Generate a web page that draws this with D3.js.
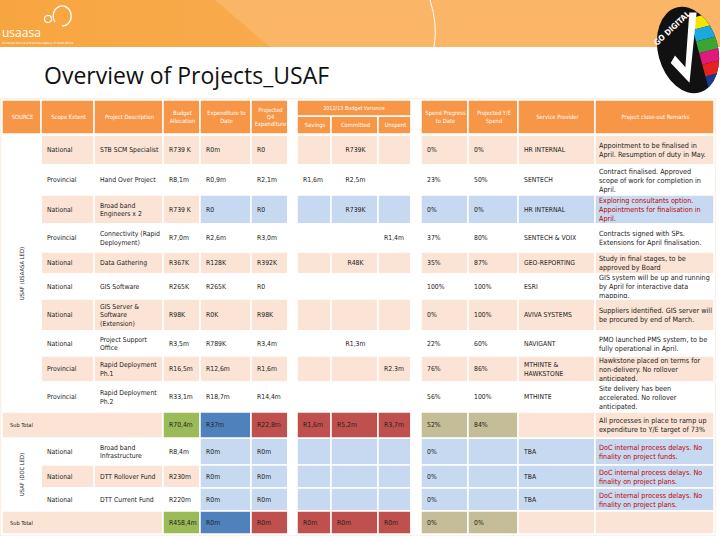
<!DOCTYPE html>
<html><head><meta charset="utf-8">
<script src="https://cdn.jsdelivr.net/npm/d3@7"></script>
<style>
body{margin:0;background:#fff}
svg{font-family:"Liberation Sans Narrow","DejaVu Sans Condensed",sans-serif}
</style></head>
<body><svg id="vis" width="720" height="540"></svg>
<script>
const headers = ["SOURCE","Scope Extent","Project Description","Budget Allocation","Expenditure to Date","Projected Q4 Expenditure","","Savings","Committed","Unspent","","Spend Progress to Date","Projected Y/E Spend","Service Provider","Project close-out Remarks"];
const scope = ["National","Provincial","National","Provincial","National","National","National","National","Provincial","Provincial","National","National","National"];
const projects = ["STB SCM Specialist","Hand Over Project","Broad band Engineers x 2","Connectivity (Rapid Deployment)","Data Gathering","GIS Software","GIS Server & Software (Extension)","Project Support Office","Rapid Deployment Ph.1","Rapid Deployment Ph.2","Broad band Infrastructure","DTT Rollover Fund","DTT Current Fund"];
const budget = ["R739 K","R8,1m","R739 K","R7,0m","R367K","R265K","R98K","R3,5m","R16,5m","R33,1m","R8,4m","R230m","R220m"];
const expenditure = ["R0m","R0,9m","R0","R2,6m","R128K","R265K","R0K","R789K","R12,6m","R18,7m","R0m","R0m","R0m"];
const projectedQ4 = ["R0","R2,1m","R0","R3,0m","R392K","R0","R98K","R3,4m","R1,6m","R14,4m","R0m","R0m","R0m"];
const savings = ["","R1,6m","","","","","","","","","","",""];
const committed = ["R739K","R2,5m","R739K","","R48K","","","R1,3m","","","","",""];
const unspent = ["","","","R1,4m","","","","","R2.3m","","","",""];
const spendProgress = ["0%","23%","0%","37%","35%","100%","0%","22%","76%","56%","0%","0%","0%"];
const projectedYE = ["0%","50%","0%","80%","87%","100%","100%","60%","86%","100%","","",""];
const provider = ["HR INTERNAL","SENTECH","HR INTERNAL","SENTECH & VOIX","GEO-REPORTING","ESRI","AVIVA SYSTEMS","NAVIGANT","MTHINTE & HAWKSTONE","MTHINTE","TBA","TBA","TBA"];
const remarks = ["Appointment to be finalised in April. Resumption of duty in May.","Contract finalised. Approved scope of work for completion in April.","Exploring consultants option. Appointments for finalisation in April.","Contracts signed with SPs. Extensions for April finalisation.","Study in final stages, to be approved by Board","GIS system will be up and running by April for interactive data mapping.","Suppliers identified. GIS server will be procured by end of March.","PMO launched PMS system, to be fully operational in April.","Hawkstone placed on terms for non-delivery. No rollover anticipated.","Site delivery has been accelerated. No rollover anticipated.","DoC internal process delays. No finality on project funds.","DoC internal process delays. No finality on project plans.","DoC internal process delays. No finality on project plans."];
const redRemark = [false,false,true,false,false,false,false,false,false,false,true,true,true];
const blueRow = [false,false,true,false,false,false,false,false,false,false,true,true,true];
const sources = ["USAF (USAASA LED)","USAF (DOC LED)"];
const subTotals = [
  {budget:"R70,4m",exp:"R37m",q4:"R22,8m",sav:"R1,6m",com:"R5,2m",uns:"R3,7m",spend:"52%",ye:"84%",remark:"All processes in place to ramp up expenditure to Y/E target of 73%"},
  {budget:"R458,4m",exp:"R0m",q4:"R0m",sav:"R0m",com:"R0m",uns:"R0m",spend:"0%",ye:"0%",remark:""}
];

// layout
const colEdges = [2,41,94,163,200,251,288,297,331,378,411,421,468,518,595,714];
const rowTops = [135,165,195,224,252,274,299,331,356,382,412,438,465,488,511,534];
const x = d3.scaleOrdinal().domain(d3.range(15)).range(colEdges.slice(0,-1));
const w = i => colEdges[i+1]-colEdges[i];
const y = d3.scaleOrdinal().domain(d3.range(15)).range(rowTops.slice(0,-1));
const h = i => rowTops[i+1]-rowTops[i];

const PEACH="#fbe4d5", BLUE="#c6d9f0", ORANGE="#f79646", GREEN="#9bbb59", DBLUE="#4f81bd", RED="#c0504d", TAN="#c4bd97";
const svg = d3.select("#vis");

// banner
const grad = svg.append("defs").append("linearGradient").attr("id","g1");
grad.append("stop").attr("offset","0").attr("stop-color","#f7a540");
grad.append("stop").attr("offset","1").attr("stop-color","#fbb462");
svg.append("rect").attr("width",720).attr("height",47).attr("fill","url(#g1)");
svg.append("path").attr("d","M215,0 L270,47 L720,47 L720,0Z").attr("fill","#fab567");
svg.append("path").attr("d","M430,0 Q438,25 434,47").attr("fill","none").attr("stroke","#fff").attr("stroke-width",1);
svg.append("text").attr("x",2).attr("y",37).attr("fill","#fff").attr("font-size",12).attr("font-family","Open Sans").text("usaasa");
svg.append("path").attr("d","M55,22 A9,10 0 1 1 62,26").attr("fill","none").attr("stroke","#fff").attr("stroke-width",1.3);
svg.append("circle").attr("cx",48).attr("cy",19).attr("r",3.5).attr("fill","none").attr("stroke","#fff").attr("stroke-width",1.2);
svg.append("text").attr("x",2).attr("y",44).attr("fill","#fff").attr("font-size",3).text("Universal Service and Access Agency of South Africa");
svg.append("text").attr("x",44).attr("y",84).attr("font-size",23).attr("font-family","Open Sans").attr("fill","#111").text("Overview of Projects_USAF");
// go digital badge
const b = svg.append("g").attr("transform","translate(688,50) rotate(-15)");
b.append("ellipse").attr("rx",30).attr("ry",44).attr("fill","#111");
b.append("clipPath").attr("id","bc").append("ellipse").attr("rx",30).attr("ry",44);
const stripes=b.append("g").attr("clip-path","url(#bc)");
["#f5e600","#19a9e0","#3aa535","#e0197b","#e42320","#1b3a8c"].forEach((c,i)=>
  stripes.append("rect").attr("x",10).attr("y",-30+i*12).attr("width",22).attr("height",12).attr("fill",c));
b.append("path").attr("d","M-20,8 L-7,32 L18,-34 L11,-36 L-7,16 L-14,2Z").attr("fill","#fff");
b.append("text").attr("x",-20).attr("y",-24).attr("fill","#fff").attr("font-size",8).attr("font-weight","bold").attr("transform","rotate(-28)").text("GO DIGITAL");

// table frame
svg.append("rect").attr("x",0).attr("y",98).attr("width",716).attr("height",438).attr("fill","#fdf0e6");

function cell(ci,ry,rh,fill,text,opt={}){
  const g = svg.append("g");
  g.append("rect").attr("x",x(ci)).attr("y",ry).attr("width",w(ci)).attr("height",rh)
    .attr("fill",fill).attr("stroke","#fff").attr("stroke-width",1.5);
  if(text) wrap(g,text,x(ci)+(opt.pad??6),ry+rh/2,w(ci)-(opt.pad??6)-2,opt);
}
function wrap(g,text,tx,cy,maxW,opt){
  const fs=opt.fs||6.8, words=text.split(" "), lines=[];
  const t=g.append("text").attr("font-size",fs);
  let line="";
  words.forEach(wd=>{const test=line?line+" "+wd:wd; t.text(test);
    if(t.node().getComputedTextLength()>maxW && line){lines.push(line);line=wd;} else line=test;});
  lines.push(line); t.remove();
  const lh=fs*1.25;
  const txt=g.append("text").attr("font-size",fs).attr("fill",opt.color||"#222")
    .attr("text-anchor",opt.anchor||"start");
  const ax = opt.anchor==="middle"? tx+maxW/2-((opt.pad??6)-4)/2 : tx;
  lines.forEach((l,i)=>txt.append("tspan").attr("x",ax).attr("y",cy-(lines.length-1)*lh/2+i*lh+fs*0.35).text(l));
}

// headers
const hTop=100, hBot=134;
headers.forEach((t,i)=>{
  if(i===6||i===10){cell(i,hTop,hBot-hTop,"#fff","");return;}
  if(i>=7&&i<=9){cell(i,hTop+16,hBot-hTop-16,ORANGE,t,{color:"#fff",anchor:"middle",pad:2,fs:5.8});return;}
  cell(i,hTop,hBot-hTop,ORANGE,t,{color:"#fff",anchor:"middle",pad:2,fs:5.8});
});
svg.append("rect").attr("x",x(7)).attr("y",hTop).attr("width",colEdges[10]-colEdges[7]).attr("height",16)
  .attr("fill",ORANGE).attr("stroke","#fff").attr("stroke-width",1.5);
svg.append("text").attr("x",(colEdges[7]+colEdges[10])/2).attr("y",hTop+10).attr("text-anchor","middle")
  .attr("font-size",5.4).attr("fill","#fff").text("2012/13 Budget Variance");

// data rows
const rowIdx = [0,1,2,3,4,5,6,7,8,9,11,12,13];
projects.forEach((p,k)=>{
  const r=rowIdx[k], ry=y(r), rh=h(r);
  const base = k<10 ? (k%2===0?PEACH:"#fff") : (k%2===1?PEACH:"#fff");
  const right = blueRow[k]?BLUE:base;
  const vals=[null,scope[k],p,budget[k],expenditure[k],projectedQ4[k],"",savings[k],committed[k],unspent[k],"",spendProgress[k],projectedYE[k],provider[k],remarks[k]];
  vals.forEach((v,i)=>{
    if(i===0) return;
    if(i===6||i===10){cell(i,ry,rh,"#fff","");return;}
    const fill = i<=3?base:right;
    const center = i===8;
    cell(i,ry,rh,fill,v,{color:(i===14&&redRemark[k])?"#c00000":"#222",anchor:center?"middle":"start",pad:i===14?4:(center?2:6),fs:i===14?7.2:6.8});
  });
});
// source column
[[0,10,0],[11,14,1]].forEach(([a,bb,s])=>{
  const top=y(a), bot=rowTops[bb];
  svg.append("rect").attr("x",x(0)).attr("y",top).attr("width",w(0)).attr("height",bot-top)
    .attr("fill","#fff").attr("stroke","#fff");
  svg.append("text").attr("transform",`translate(${x(0)+w(0)/2+2},${(top+bot)/2}) rotate(-90)`)
    .attr("text-anchor","middle").attr("font-size",5.8).attr("fill","#222").text(sources[s]);
});
// subtotals
[10,14].forEach((r,j)=>{
  const st=subTotals[j], ry=y(r), rh=h(r);
  svg.append("rect").attr("x",x(0)).attr("y",ry).attr("width",colEdges[3]-colEdges[0]).attr("height",rh)
    .attr("fill",PEACH).attr("stroke","#fff").attr("stroke-width",1.5);
  svg.append("text").attr("x",x(0)+8).attr("y",ry+rh/2+2).attr("font-size",5.6).attr("fill","#222").text("Sub Total");
  const spec=[[3,GREEN,st.budget],[4,DBLUE,st.exp],[5,RED,st.q4],[6,"#fff",""],[7,RED,st.sav],[8,RED,st.com],[9,RED,st.uns],[10,"#fff",""],[11,TAN,st.spend],[12,TAN,st.ye],[13,PEACH,""],[14,PEACH,st.remark]];
  spec.forEach(([i,f,t])=>cell(i,ry,rh,f,t,{pad:i===14?4:6,fs:i===14?7.2:6.8,color:"#222"}));
});
</script></body></html>
